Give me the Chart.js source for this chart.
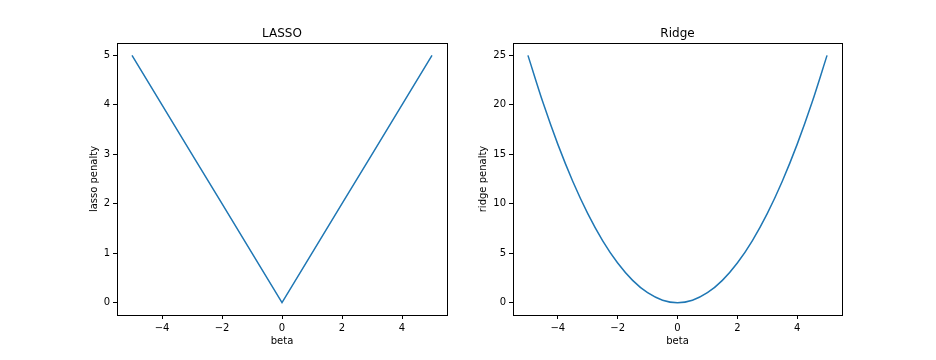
<!DOCTYPE html>
<html><head><meta charset="utf-8">
<script src="https://cdn.jsdelivr.net/npm/chart.js@4.4.1/dist/chart.umd.min.js"></script>
<style>
html,body{margin:0;padding:0;background:#fff;}
#wrap{position:relative;width:936px;height:360px;}
canvas{position:absolute;left:0;top:0;}
</style></head>
<body><div id="wrap"><canvas id="c1" width="936" height="360"></canvas><canvas id="c2" width="936" height="360"></canvas></div>
<script>
// Data
const lassoBeta = [-5, -4, -3, -2, -1, 0, 1, 2, 3, 4, 5];
const lassoPenalty = [5, 4, 3, 2, 1, 0, 1, 2, 3, 4, 5];
const ridgeBeta = [-5, -4.5, -4, -3.5, -3, -2.5, -2, -1.5, -1, -0.5, 0, 0.5, 1, 1.5, 2, 2.5, 3, 3.5, 4, 4.5, 5];
const ridgePenalty = [25, 20.25, 16, 12.25, 9, 6.25, 4, 2.25, 1, 0.25, 0, 0.25, 1, 2.25, 4, 6.25, 9, 12.25, 16, 20.25, 25];
const xTicks = [-4, -2, 0, 2, 4];
const lassoYTicks = [0, 1, 2, 3, 4, 5];
const ridgeYTicks = [0, 5, 10, 15, 20, 25];
const titles = ['LASSO', 'Ridge'];
const yLabels = ['lasso penalty', 'ridge penalty'];
const xLabel = 'beta';

const FONT = 'DejaVu Sans';
Chart.defaults.font.family = FONT;
Chart.defaults.color = '#000';

function fmt(v){ return v < 0 ? '\u2212' + Math.abs(v) : String(v); }

const framePlugin = {
  id: 'frame',
  afterDraw(chart, args, opts) {
    const a = chart.chartArea, ctx = chart.ctx;
    ctx.save();
    ctx.strokeStyle = '#000';
    ctx.lineWidth = 1;
    ctx.strokeRect(Math.round(a.left) + 0.5, Math.round(a.top) + 0.5, Math.round(a.right - a.left), Math.round(a.bottom - a.top));
    ctx.fillStyle = '#000';
    ctx.font = '12px "' + FONT + '"';
    ctx.textAlign = 'center';
    ctx.textBaseline = 'alphabetic';
    ctx.fillText(opts.title, (a.left + a.right) / 2, 37);
    ctx.restore();
  }
};

function makeChart(id, xs, ys, yTicks, yMin, yMax, title, yLabel, padL, padR, yTitlePad, smooth) {
  const pts = xs.map((x, i) => ({x: x, y: ys[i]}));
  const ds = { data: pts, borderColor: '#1f77b4', borderWidth: 1.5, pointRadius: 0, fill: false, tension: 0 };
  if (smooth) ds.cubicInterpolationMode = 'monotone';
  return new Chart(document.getElementById(id), {
    type: 'line',
    data: { datasets: [ds] },
    options: {
      responsive: false, animation: false, devicePixelRatio: 1,
      layout: { padding: { left: padL, right: padR, top: 43, bottom: 5 } },
      plugins: { legend: { display: false }, tooltip: { enabled: false }, frame: { title: title } },
      scales: {
        x: {
          type: 'linear', min: -5.5, max: 5.5,
          afterFit(s) { s.height = 40; },
          afterBuildTicks(s) { s.ticks = xTicks.map(v => ({value: v})); },
          ticks: { callback: v => fmt(v), font: { size: 10 }, padding: 3, maxRotation: 0, autoSkip: false },
          grid: { drawOnChartArea: false, drawTicks: true, tickLength: 4, color: '#000', lineWidth: 1 },
          border: { display: false },
          title: { display: true, text: xLabel, font: { size: 10 }, padding: { top: 0, bottom: 8 } }
        },
        y: {
          type: 'linear', min: yMin, max: yMax,
          afterFit(s) { s.width = 40; },
          afterBuildTicks(s) { s.ticks = yTicks.map(v => ({value: v})); },
          ticks: { callback: v => fmt(v), font: { size: 10 }, padding: 3, autoSkip: false },
          grid: { drawOnChartArea: false, drawTicks: true, tickLength: 4, color: '#000', lineWidth: 1 },
          border: { display: false },
          title: { display: true, text: yLabel, font: { size: 10 }, padding: { top: yTitlePad, bottom: 0 } }
        }
      }
    },
    plugins: [framePlugin]
  });
}

makeChart('c1', lassoBeta, lassoPenalty, lassoYTicks, -0.25, 5.25, titles[0], yLabels[0], 77, 489, 11, false);
makeChart('c2', ridgeBeta, ridgePenalty, ridgeYTicks, -1.25, 26.25, titles[1], yLabels[1], 473, 94, 4, true);
</script></body></html>
